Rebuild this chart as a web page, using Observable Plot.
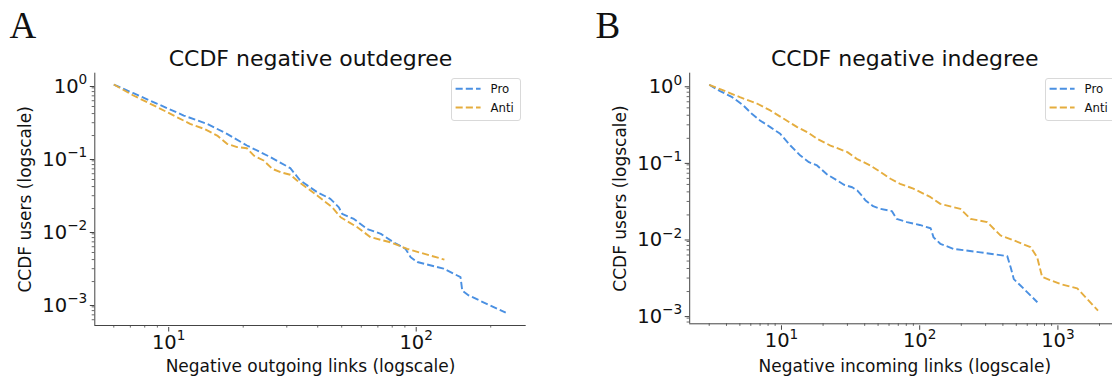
<!DOCTYPE html>
<html>
<head>
<meta charset="utf-8">
<script src="https://cdn.jsdelivr.net/npm/d3@7"></script>
<script src="https://cdn.jsdelivr.net/npm/@observablehq/plot@0.6"></script>
<style>
html, body { margin: 0; padding: 0; background: #fff; overflow: hidden; }
#fig { position: relative; width: 1112px; height: 377px; overflow: hidden; font-family: "DejaVu Sans", sans-serif; }
.panel { position: absolute; top: 0; }
.legend { position: absolute; box-sizing: border-box; border: 1px solid #d9d9d9; border-radius: 3px; background: rgba(255,255,255,0.8); }
</style>
</head>
<body>
<div id="fig"></div>
<script>
// ---------- data ----------
const seriesNames = ["Pro", "Anti"];
const seriesColors = ["#4A90E2", "#E5AD3E"];

// Panel A: CCDF negative outdegree
const outProLinks = [6, 7.2, 9, 11.5, 14.3, 17.2, 20.7, 25.8, 31, 34, 39.8, 45, 48.7, 50.2, 56, 63.4, 72, 81, 90.6, 95, 101, 129, 151, 153.5, 163, 230];
const outProCCDF  = [1, 0.76, 0.544, 0.376, 0.289, 0.211, 0.146, 0.101, 0.0714, 0.0484, 0.0335, 0.0272, 0.0208, 0.0169, 0.0144, 0.0105, 0.009, 0.0069, 0.0056, 0.0043, 0.0037, 0.003, 0.0023, 0.0015, 0.00129, 0.00075];
const outAntiLinks = [6, 7.2, 9, 10.8, 12.2, 13.9, 15.7, 17.2, 18.9, 20.7, 22.1, 24.2, 26.2, 28.3, 31, 33, 39.8, 45.8, 49.5, 57.8, 65.4, 78.7, 92, 130];
const outAntiCCDF  = [1, 0.707, 0.489, 0.357, 0.289, 0.247, 0.2, 0.154, 0.139, 0.134, 0.106, 0.091, 0.07, 0.063, 0.058, 0.0484, 0.0302, 0.0208, 0.0152, 0.0111, 0.0081, 0.0069, 0.0056, 0.004];

// Panel B: CCDF negative indegree
const inProLinks = [3, 3.6, 4.4, 5.3, 6.1, 7, 8.3, 9.8, 11.6, 13.7, 15.8, 18.1, 21.4, 25.3, 28.3, 32.5, 35.3, 38, 40.4, 46, 52, 63, 68, 81, 100, 120, 126, 141, 176, 275, 430, 454, 480, 536, 710];
const inProCCDF  = [1, 0.826, 0.689, 0.537, 0.418, 0.342, 0.28, 0.229, 0.161, 0.119, 0.0977, 0.0884, 0.0674, 0.0563, 0.0495, 0.046, 0.0417, 0.036, 0.0312, 0.026, 0.024, 0.0224, 0.0178, 0.0161, 0.0148, 0.0134, 0.0102, 0.0084, 0.0072, 0.0065, 0.0058, 0.0042, 0.0029, 0.0024, 0.00145];
const inAntiLinks = [3, 3.8, 5, 6.7, 8.3, 10.4, 13, 15.4, 18.1, 22.6, 30, 35, 44, 55, 61.5, 72, 90, 120, 141, 197, 233, 308, 384, 480, 634, 708, 769, 1045, 1380, 1950];
const inAntiCCDF  = [1, 0.843, 0.689, 0.565, 0.462, 0.36, 0.28, 0.24, 0.197, 0.161, 0.132, 0.108, 0.0884, 0.068, 0.0593, 0.051, 0.044, 0.0341, 0.0279, 0.024, 0.0178, 0.0161, 0.0108, 0.0093, 0.0076, 0.0056, 0.0031, 0.0025, 0.0022, 0.00113];

// tick labels
const majorXA = [10, 100];
const majorXB = [10, 100, 1000];
const majorY = [1, 0.1, 0.01, 0.001];

// ---------- drawing ----------
const FONT = "DejaVu Sans";
const SPINE = "#444";
const TEXT = "#111";
const TICK_FONT = 19.5;

function minorTicks(domain) {
  const out = [];
  const [a, b] = domain;
  for (let k = Math.floor(Math.log10(a)); k <= Math.ceil(Math.log10(b)); k++) {
    for (let m = 2; m <= 9; m++) {
      const v = m * Math.pow(10, k);
      if (v >= a && v <= b) out.push(v);
    }
  }
  return out;
}

const supFmt = d => "10^" + Math.round(Math.log10(d));

function toRows(xs, ys) { return xs.map((x, i) => ({x, y: ys[i]})); }

function makePanel(cfg) {
  const m = cfg.margins;
  const svg = Plot.plot({
    width: 556,
    height: 377,
    marginLeft: m.left, marginRight: m.right, marginTop: m.top, marginBottom: m.bottom,
    style: {fontFamily: FONT, fontSize: "17px", color: TEXT, background: "transparent"},
    x: {type: "log", domain: cfg.xDomain, axis: null},
    y: {type: "log", domain: cfg.yDomain, axis: null},
    marks: [
      Plot.axisX(minorTicks(cfg.xDomain), {tickSize: 2.6, tickFormat: () => "", stroke: SPINE, strokeWidth: 0.8, label: null}),
      Plot.axisX(cfg.majorX, {tickSize: 4.5, tickPadding: 3, tickFormat: supFmt, dy: 2, fontSize: TICK_FONT, fill: TEXT, stroke: SPINE, strokeWidth: 1, label: null}),
      Plot.axisY(minorTicks(cfg.yDomain), {tickSize: 2.6, tickFormat: () => "", stroke: SPINE, strokeWidth: 0.8, label: null}),
      Plot.axisY(majorY, {tickSize: 4.5, tickPadding: 3, tickFormat: supFmt, dy: 2, fontSize: TICK_FONT, fill: TEXT, stroke: SPINE, strokeWidth: 1, label: null}),
      Plot.ruleX([cfg.xDomain[0]], {stroke: SPINE, strokeWidth: 1}),
      Plot.ruleY([cfg.yDomain[0]], {stroke: SPINE, strokeWidth: 1}),
      ...cfg.series.map((s, i) => Plot.line(s, {
        x: "x", y: "y", stroke: seriesColors[i], strokeWidth: 1.9,
        strokeDasharray: "7.1,3.1", strokeLinecap: "butt", strokeLinejoin: "round"
      })),
      Plot.text([cfg.title], {frameAnchor: "top", textAnchor: "middle", lineAnchor: "bottom", dy: -7.5, dx: cfg.shift, fontSize: 22, fill: TEXT}),
      Plot.text([cfg.xLabel], {frameAnchor: "bottom", textAnchor: "middle", lineAnchor: "bottom", dy: 371.5 - (377 - m.bottom), dx: cfg.shift, fontSize: 17, fill: TEXT}),
      Plot.text([cfg.yLabel], {frameAnchor: "left", textAnchor: "middle", lineAnchor: "bottom", rotate: -90, dx: cfg.yLabelX - m.left, fontSize: 17, fill: TEXT}),
      Plot.text([cfg.letter], {frameAnchor: "top-left", textAnchor: "start", lineAnchor: "bottom", dx: cfg.letterX - m.left, dy: 38 - m.top, fontSize: 37, fontFamily: "Liberation Serif", fill: TEXT})
    ]
  });
  // matplotlib-style 10^k labels with a superscript
  d3.select(svg).selectAll('g[aria-label$="tick label"] text').each(function () {
    const mm = /^10\^(-?\d+)$/.exec(this.textContent);
    if (!mm) return;
    const e = mm[1].replace("-", "\u2212");
    this.textContent = "";
    const t = d3.select(this);
    t.append("tspan").text("10");
    t.append("tspan").attr("font-size", "70%").attr("dy", "-8.4").text(e);
  });
  svg.classList.add("panel");
  svg.style.left = cfg.left + "px";
  return svg;
}

function makeLegend(left, top) {
  const div = document.createElement("div");
  div.className = "legend";
  div.style.left = left + "px";
  div.style.top = top + "px";
  div.style.width = "70px";
  div.style.height = "42.5px";
  const s = d3.select(div).append("svg").attr("width", 70).attr("height", 42).style("position", "absolute").style("left", "-1px").style("top", "-1px");
  seriesNames.forEach((name, i) => {
    const y = 10.8 + i * 18.7;
    s.append("line").attr("x1", 4.6).attr("x2", 29.6).attr("y1", y).attr("y2", y)
      .attr("stroke", seriesColors[i]).attr("stroke-width", 1.9).attr("stroke-dasharray", "7.1,3.1");
    s.append("text").attr("x", 39.6).attr("y", y + 4.2).attr("font-family", FONT).attr("font-size", 11.7).attr("fill", TEXT).text(name);
  });
  return div;
}

const fig = document.getElementById("fig");

fig.appendChild(makePanel({
  left: 0,
  margins: {left: 94.3, right: 30.3, top: 72.7, bottom: 52},
  xDomain: [Math.pow(10, 0.7014), Math.pow(10, 2.4444)],
  yDomain: [Math.pow(10, -3.301), Math.pow(10, 0.155)],
  majorX: majorXA,
  series: [toRows(outProLinks, outProCCDF), toRows(outAntiLinks, outAntiCCDF)],
  title: "CCDF negative outdegree",
  xLabel: "Negative outgoing links (logscale)",
  yLabel: "CCDF users (logscale)",
  yLabelX: 30.5,
  letter: "A",
  letterX: 9,
  shift: 0
}));

fig.appendChild(makePanel({
  left: 556,
  margins: {left: 133.2, right: 0, top: 72.7, bottom: 53.7},
  xDomain: [Math.pow(10, 0.336), Math.pow(10, 3.395)],
  yDomain: [Math.pow(10, -3.12), Math.pow(10, 0.151)],
  majorX: majorXB,
  series: [toRows(inProLinks, inProCCDF), toRows(inAntiLinks, inAntiCCDF)],
  title: "CCDF negative indegree",
  xLabel: "Negative incoming links (logscale)",
  yLabel: "CCDF users (logscale)",
  yLabelX: 70,
  letter: "B",
  letterX: 39,
  shift: 3.7
}));

fig.appendChild(makeLegend(451, 78.3));
fig.appendChild(makeLegend(1045, 78.3));
</script>
</body>
</html>
